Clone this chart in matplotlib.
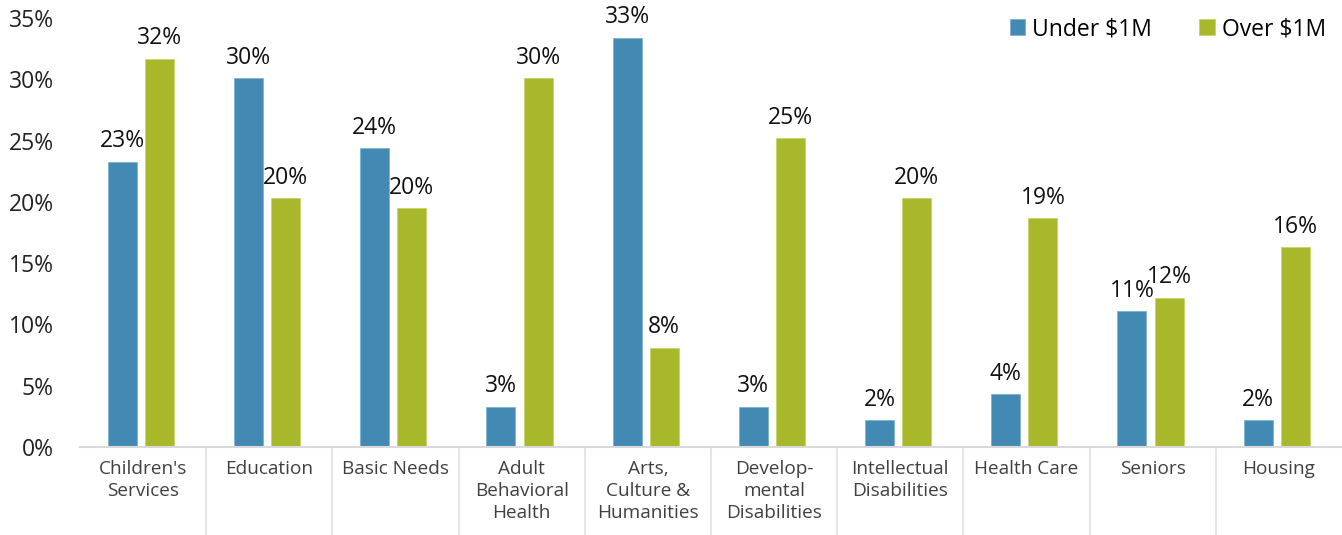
import numpy as np
import matplotlib.pyplot as plt
from matplotlib.lines import Line2D

plt.rcParams['font.family'] = ['Open Sans', 'DejaVu Sans']

categories = ["Children's\nServices", "Education", "Basic Needs", "Adult\nBehavioral\nHealth",
              "Arts,\nCulture &\nHumanities", "Develop-\nmental\nDisabilities",
              "Intellectual\nDisabilities", "Health Care", "Seniors", "Housing"]
under_1m = [23.3, 30.1, 24.4, 3.3, 33.4, 3.3, 2.2, 4.3, 11.1, 2.2]
over_1m = [31.7, 20.3, 19.5, 30.1, 8.1, 25.2, 20.3, 18.7, 12.2, 16.3]
under_lbl = ['23%', '30%', '24%', '3%', '33%', '3%', '2%', '4%', '11%', '2%']
over_lbl = ['32%', '20%', '20%', '30%', '8%', '25%', '20%', '19%', '12%', '16%']

blue = '#428AB3'
green = '#A8B82A'

fig = plt.figure(figsize=(13.42, 5.35), dpi=100)
ax = fig.add_axes([0.0596, 0.1645, 0.9404, 0.8015])

x = np.arange(len(categories))
w = 0.23
b1 = ax.bar(x - 0.165, under_1m, w, color=blue, edgecolor='#7FB3D3', linewidth=0.6, label='Under $1M')
b2 = ax.bar(x + 0.13, over_1m, w, color=green, edgecolor='#C8D46A', linewidth=0.6, label='Over $1M')
ax.bar_label(b1, labels=under_lbl, padding=6, fontsize=16.5, color='#111111')
ax.bar_label(b2, labels=over_lbl, padding=6, fontsize=16.5, color='#111111')

ax.set_xlim(-0.5, len(categories) - 0.5)
ax.set_ylim(0, 35)
ax.set_yticks(np.arange(0, 36, 5))
ax.set_yticklabels(['%d%%' % v for v in range(0, 36, 5)])
ax.tick_params(axis='y', length=0, pad=19, labelsize=16.5, labelcolor='#222222')
ax.set_xticks(x)
ax.set_xticklabels(categories, fontsize=13.7, color='#404040', linespacing=1.28, va='top')
ax.tick_params(axis='x', length=0, pad=9.5)

for s in ['top', 'right', 'left']:
    ax.spines[s].set_visible(False)
ax.spines['bottom'].set_color('#D9D9D9')
ax.spines['bottom'].set_linewidth(1.5)

# separators between category labels
for i in range(1, len(categories)):
    ax.add_line(Line2D([i - 0.5, i - 0.5], [0, -7.2], color='#E0E0E0', linewidth=1.2,
                       clip_on=False, transform=ax.transData))

ax.legend(loc='upper right', bbox_to_anchor=(1.0035, 1.05), ncol=2, frameon=False, fontsize=16.5,
          handlelength=0.68, handleheight=0.68, handletextpad=0.3, columnspacing=2.05)

plt.savefig('out.png')
